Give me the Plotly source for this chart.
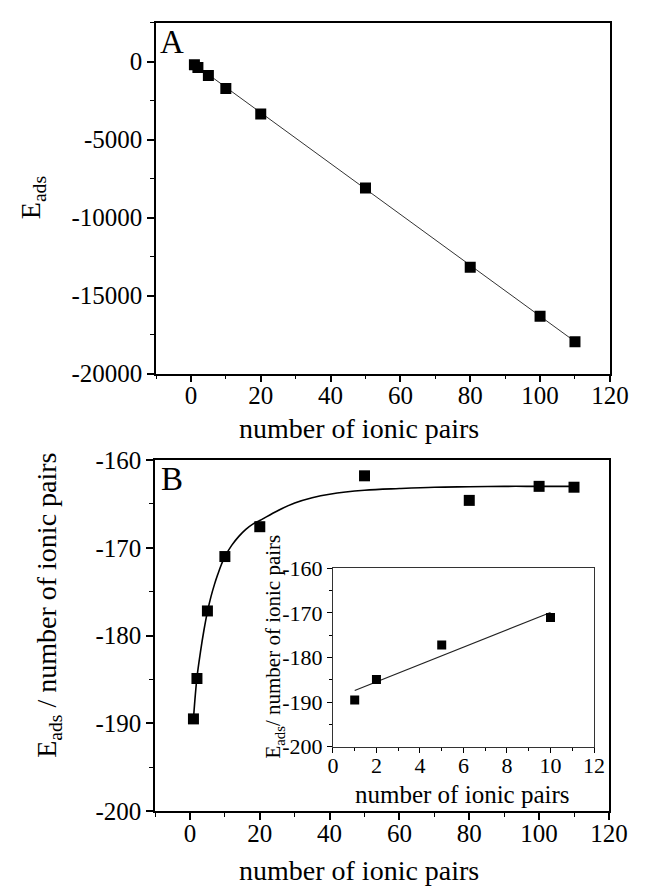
import plotly.graph_objects as go

# ---------------- data ----------------
n_pairs = [1, 2, 5, 10, 20, 50, 80, 100, 110]
e_ads = [-189.5, -369.8, -886, -1710, -3352, -8100, -13170, -16310, -17945]
e_per_pair = [-189.5, -184.9, -177.2, -171.0, -167.6, -161.8, -164.6, -163.0, -163.1]

lin_fit_x = [1, 110]
lin_fit_y = [-170, -17940]

curve_x = [1, 2, 3, 4, 5, 6, 7, 8, 9, 10, 12, 14, 16, 18, 20, 25, 30, 35, 40, 50, 60, 70, 80, 90, 100, 110]
curve_y = [-189.5, -184.8, -181.9, -179.4, -177.3, -175.6, -174.2, -173.0, -171.9, -171.0,
           -169.7, -168.7, -167.9, -167.3, -166.9, -165.8, -164.9, -164.3, -163.9, -163.45,
           -163.25, -163.1, -163.05, -163.0, -163.0, -163.0]

inset_x = [1, 2, 5, 10]
inset_y = [-189.5, -184.9, -177.2, -171.0]
inset_fit_x = [1, 10]
inset_fit_y = [-187.4, -169.9]

a_xticks = [0, 20, 40, 60, 80, 100, 120]
a_yticks = [0, -5000, -10000, -15000, -20000]
a_yticktext = ["0", "-5000", "-10000", "-15000", "-20000"]
b_yticks = [-160, -170, -180, -190, -200]
b_yticktext = ["-160", "-170", "-180", "-190", "-200"]
in_xticks = [0, 2, 4, 6, 8, 10, 12]

FONT = "Liberation Serif, Times New Roman, serif"

fig = go.Figure()

# Panel A
fig.add_trace(go.Scatter(x=lin_fit_x, y=lin_fit_y, mode="lines",
                         line=dict(color="#333333", width=1), xaxis="x", yaxis="y",
                         showlegend=False, hoverinfo="skip"))
fig.add_trace(go.Scatter(x=n_pairs, y=e_ads, mode="markers",
                         marker=dict(symbol="square", size=11, color="black"),
                         xaxis="x", yaxis="y", showlegend=False))

# Panel B
fig.add_trace(go.Scatter(x=curve_x, y=curve_y, mode="lines",
                         line=dict(color="black", width=1.6, shape="spline"),
                         xaxis="x2", yaxis="y2", showlegend=False, hoverinfo="skip"))
fig.add_trace(go.Scatter(x=n_pairs, y=e_per_pair, mode="markers",
                         marker=dict(symbol="square", size=11, color="black"),
                         xaxis="x2", yaxis="y2", showlegend=False))

# Inset
fig.add_trace(go.Scatter(x=inset_fit_x, y=inset_fit_y, mode="lines",
                         line=dict(color="#222222", width=1.2),
                         xaxis="x3", yaxis="y3", showlegend=False, hoverinfo="skip"))
fig.add_trace(go.Scatter(x=inset_x, y=inset_y, mode="markers",
                         marker=dict(symbol="square", size=9, color="black"),
                         xaxis="x3", yaxis="y3", showlegend=False))

axis_common = dict(showline=True, linecolor="black", linewidth=1.5, mirror=True,
                   ticks="outside", ticklen=7, tickwidth=1.5, tickcolor="black",
                   showgrid=False, zeroline=False,
                   tickfont=dict(family=FONT, size=25, color="black"))

fig.update_layout(
    width=651, height=890,
    margin=dict(l=0, r=0, t=0, b=0),
    paper_bgcolor="white", plot_bgcolor="white",
    showlegend=False,
    font=dict(family=FONT, color="black"),
    xaxis=dict(axis_common, domain=[156/651, 628/651], range=[-10, 120],
               tickvals=a_xticks, anchor="y", ticklabelstandoff=-8,
               minor=dict(ticks="outside", ticklen=4, tickwidth=1.2, dtick=10, tick0=0, tickcolor="black")),
    yaxis=dict(axis_common, domain=[1-372/890, 1-10/890], range=[-20000, 2500],
               tickvals=a_yticks, ticktext=a_yticktext, anchor="x",
               minor=dict(ticks="outside", ticklen=4, tickwidth=1.2, dtick=2500, tick0=0, tickcolor="black")),
    xaxis2=dict(axis_common, domain=[155/651, 627/651], range=[-10, 120],
                tickvals=a_xticks, anchor="y2", ticklabelstandoff=-8,
                minor=dict(ticks="outside", ticklen=4, tickwidth=1.2, dtick=10, tick0=0, tickcolor="black")),
    yaxis2=dict(axis_common, domain=[1-823/890, 1-461/890], range=[-200, -160],
                tickvals=b_yticks, ticktext=b_yticktext, anchor="x2",
                minor=dict(ticks="outside", ticklen=4, tickwidth=1.2, dtick=5, tick0=0, tickcolor="black")),
    xaxis3=dict(axis_common, domain=[340/651, 611.5/651], range=[0, 12],
                tickvals=in_xticks, anchor="y3", linewidth=1, tickwidth=1, ticklen=5,
                linecolor="#333333", ticklabelstandoff=-6,
                tickfont=dict(family=FONT, size=22, color="black"),
                minor=dict(ticks="outside", ticklen=3, tickwidth=1, dtick=1, tick0=0, tickcolor="black")),
    yaxis3=dict(axis_common, domain=[1-756.7/890, 1-572.7/890], range=[-200, -160],
                tickvals=b_yticks, ticktext=b_yticktext, anchor="x3", linewidth=1, tickwidth=1,
                ticklen=5, linecolor="#333333",
                tickfont=dict(family=FONT, size=22, color="black"),
                minor=dict(ticks="outside", ticklen=3, tickwidth=1, dtick=5, tick0=0, tickcolor="black")),
)

ann_font = dict(family=FONT, size=28, color="black")
annotations = [
    dict(text="E<sub>ads</sub>", x=27/651, y=1-190/890, textangle=-90, font=ann_font),
    dict(text="number of ionic pairs", x=367/651, y=1-428/890, font=ann_font),
    dict(text="E<sub>ads</sub> / number of ionic pairs", x=44/651, y=1-611/890, textangle=-90, font=ann_font),
    dict(text="number of ionic pairs", x=367/651, y=1-884/890, font=ann_font),
    dict(text="number of ionic pairs", x=475/651, y=1-806/890, font=dict(family=FONT, size=25, color="black")),
    dict(text="E<sub>ads</sub>/ number of ionic pairs", x=279/651, y=1-653/890, textangle=-90,
         font=dict(family=FONT, size=21, color="black")),
    dict(text="A", x=173/651, y=1-30/890, font=dict(family=FONT, size=33, color="black")),
    dict(text="B", x=173/651, y=1-481/890, font=dict(family=FONT, size=33, color="black")),
]
for a in annotations:
    a.update(xref="paper", yref="paper", showarrow=False, xanchor="center", yanchor="middle")
fig.update_layout(annotations=annotations)

fig.write_html("out.html")
